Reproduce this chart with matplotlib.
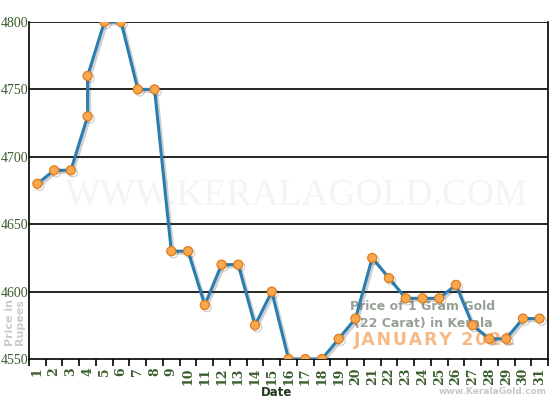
import numpy as np
import matplotlib
matplotlib.use("Agg")
import matplotlib.pyplot as plt
import matplotlib.patheffects as pe
from matplotlib.ticker import FixedLocator

# Gold price, January 2021 (day 4 has two revisions)
days = [1, 2, 3, 4, 4, 5, 6, 7, 8, 9, 10, 11, 12, 13, 14, 15, 16, 17, 18, 19,
        20, 21, 22, 23, 24, 25, 26, 27, 28, 29, 30, 31]
prices = [4680, 4690, 4690, 4730, 4760, 4800, 4800, 4750, 4750, 4630, 4630, 4590,
          4620, 4620, 4575, 4600, 4550, 4550, 4550, 4565, 4580, 4625, 4610, 4595,
          4595, 4595, 4605, 4575, 4565, 4565, 4580, 4580]
day_labels = [str(d) for d in range(1, 32)]
y_ticks = [4550, 4600, 4650, 4700, 4750, 4800]

green = "#3b5e2e"

fig = plt.figure(figsize=(5.5, 4), dpi=100)
ax = fig.add_axes([29 / 550, 1 - 359 / 400, 519 / 550, 337 / 400])
tf = fig.transFigure

# watermark
ax.text(0.54, 1 - 195 / 400, "WWW.KERALAGOLD.COM", family="Liberation Serif",
        fontsize=27, color="#f4f4f4", ha="center", va="center", zorder=0, transform=tf)

ax.set_facecolor("none")
for y in y_ticks[1:]:
    ax.axhline(y, color="black", lw=1.2, zorder=1)

# caption inside the plot, under the line
ax.text(423 / 550, 1 - 307 / 400, "Price of 1 Gram Gold", fontsize=9,
        fontweight="bold", color="#8c968c", ha="center", va="center", alpha=0.9,
        transform=tf, zorder=2)
ax.text(423 / 550, 1 - 323 / 400, "(22 Carat) in Kerala", fontsize=9,
        fontweight="bold", color="#8c968c", ha="center", va="center", alpha=0.9,
        transform=tf, zorder=2)
ax.text(435 / 550, 1 - 340 / 400, "\u200a".join("JANUARY 2021"), fontsize=12.5,
        fontweight="bold", color="#f5a868", ha="center", va="center", alpha=0.8,
        transform=tf, zorder=2)

ax.plot(days, prices, color="#2a7db0", lw=2.2, marker="o", markersize=6.5,
        markerfacecolor="#f9a850", markeredgecolor="#e07d1c", markeredgewidth=0.9,
        zorder=3,
        path_effects=[pe.SimpleLineShadow(offset=(1.5, -1.5), alpha=0.25, shadow_color="#444444"),
                      pe.Normal()])

ax.set_xlim(0.5, 31.5)
ax.set_ylim(4550, 4800)
ax.set_xticks(range(1, 32))
ax.set_xticklabels(day_labels, rotation=90, family="DejaVu Serif", fontsize=9,
                   color=green, fontweight="bold")
ax.xaxis.set_minor_locator(FixedLocator(np.arange(0.5, 32, 1)))
ax.tick_params(axis="x", which="major", length=0, pad=6)
ax.tick_params(axis="x", which="minor", length=5, width=1.2, color="black")
ax.set_yticks(y_ticks)
ax.set_yticklabels([str(v) for v in y_ticks], family="Liberation Serif", fontsize=10,
                   color=green)
ax.tick_params(axis="y", length=0, pad=0.5)

for s in ["left", "bottom", "right"]:
    ax.spines[s].set_color("black")
    ax.spines[s].set_linewidth(1.2)
ax.spines["top"].set_visible(False)

fig.text(277 / 550, 1 - 392 / 400, "Date", fontsize=8.5, fontweight="bold",
         color="#1f3a1a", ha="center", va="center")
fig.text(15 / 550, 1 - 322 / 400, "Price in\nRupees", fontsize=8, fontweight="bold",
         color="#cccccc", rotation=90, ha="center", va="center", linespacing=1.0)
fig.text(493 / 550, 1 - 391 / 400, "www.KeralaGold.com", fontsize=6.5,
         fontweight="bold", color="#c8c8c8", ha="center", va="center")

fig.savefig("out.png", dpi=100)
